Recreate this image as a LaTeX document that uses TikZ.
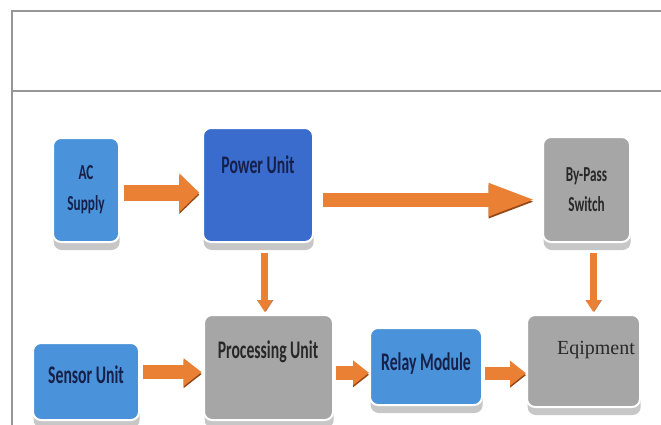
\documentclass[tikz,border=0pt]{standalone}
\usepackage{fontspec}
\usetikzlibrary{arrows.meta, shadows}
\newfontfamily\boxfont[FakeStretch=0.62]{Carlito}
\newfontfamily\eqfont{Liberation Serif}
\definecolor{skyblue}{RGB}{74,146,218}
\definecolor{deepblue}{RGB}{58,108,206}
\definecolor{boxgray}{RGB}{166,166,166}
\definecolor{navytext}{RGB}{22,32,72}
\definecolor{graytext}{RGB}{40,40,40}
\definecolor{pipeorange}{RGB}{234,128,52}
\definecolor{pipeshade}{RGB}{150,72,22}
\definecolor{framegray}{RGB}{150,150,150}

\tikzset{
  block/.style={draw=white, line width=1.5pt, rounded corners=6pt, inner sep=0pt,
    drop shadow={shadow xshift=0.5pt, shadow yshift=-6pt, fill=black!22, opacity=1}},
  lbl/.style={font=\boxfont\bfseries\fontsize{19}{22}\selectfont, text=navytext, anchor=base},
  smalllbl/.style={font=\boxfont\bfseries\fontsize{16}{23}\selectfont, align=center},
  pipe/.style n args={3}{draw=pipeorange, line width=#1, -{Triangle[length=#2,width=#3]},
    preaction={draw=pipeshade, transform canvas={yshift=-1.5pt}}},
  vpipe/.style={draw=pipeorange, line width=5pt, -{Triangle[length=9pt,width=11pt]},
    preaction={draw=pipeshade!70, transform canvas={xshift=0.8pt}}},
}

\begin{document}
\begin{tikzpicture}[x=0.75pt, y=-0.75pt]
  \useasboundingbox (0,0) rectangle (661,425);
  % frame
  \draw[framegray, line width=2pt] (12,425) -- (12,11) -- (661,11);
  \draw[framegray, line width=2pt] (12,91) -- (661,91);

  % blocks
  \node[block, fill=skyblue, minimum width=49.5pt, minimum height=78pt, smalllbl, text=navytext] (ac) at (86,190) {AC\\Supply};
  \node[block, fill=deepblue, minimum width=82.5pt, minimum height=85.5pt] (power) at (258,185) {};
  \node[block, fill=boxgray, minimum width=65.25pt, minimum height=78.75pt, smalllbl, text=graytext] (bypass) at (586.5,189.5) {By-Pass\\Switch};
  \node[block, fill=skyblue, minimum width=79.5pt, minimum height=57.75pt] (sensor) at (86,381.5) {};
  \node[block, fill=boxgray, minimum width=96.75pt, minimum height=78.75pt] (proc) at (268.5,367.5) {};
  \node[block, fill=skyblue, minimum width=84pt, minimum height=57.75pt] (relay) at (426,366.5) {};
  \node[block, fill=boxgray, minimum width=84.75pt, minimum height=69pt] (equip) at (583.5,361) {};

  % labels
  \node[lbl] (powerTxt) at (258,173) {Power Unit};
  \node[lbl] (sensorTxt) at (86,383) {Sensor Unit};
  \node[lbl, text=graytext] (procTxt) at (268,358) {Processing Unit};
  \node[lbl] (relayTxt) at (426,370) {Relay Module};
  \node[anchor=base, font=\eqfont\fontsize{15}{17}\selectfont, text=graytext] (equipTxt) at (596,354) {Eqipment};

  % connectors
  \draw[pipe={12pt}{15pt}{28pt}, shorten <=3pt, shorten >=2pt]
    ([yshift=-2pt]ac.east) -- ([yshift=-2pt]ac.east -| power.west);
  \draw[pipe={10.5pt}{36pt}{22pt}, shorten <=7pt, shorten >=4pt]
    ([yshift=-11pt]power.east) -- ([yshift=-11pt]power.east -| bypass.west);
  \draw[vpipe, shorten <=7.5pt, shorten >=1.5pt]
    ([xshift=5pt]power.south) -- ([xshift=5pt]power.south |- proc.north);
  \draw[vpipe, shorten <=7.5pt, shorten >=1.5pt]
    ([xshift=5pt]bypass.south) -- ([xshift=5pt]bypass.south |- equip.north);
  \draw[pipe={10.5pt}{13.5pt}{20pt}, shorten <=2pt, shorten >=1pt]
    ([yshift=7pt]sensor.east) -- ([yshift=7pt]sensor.east -| proc.west);
  \draw[pipe={10pt}{12pt}{18pt}, shorten <=1.5pt, shorten >=0pt]
    ([yshift=-4pt]proc.east) -- ([yshift=-4pt]proc.east -| relay.west);
  \draw[pipe={10pt}{12pt}{18pt}, shorten <=1.5pt, shorten >=0pt]
    ([yshift=-5pt]relay.east) -- ([yshift=-5pt]relay.east -| equip.west);
\end{tikzpicture}
\end{document}
